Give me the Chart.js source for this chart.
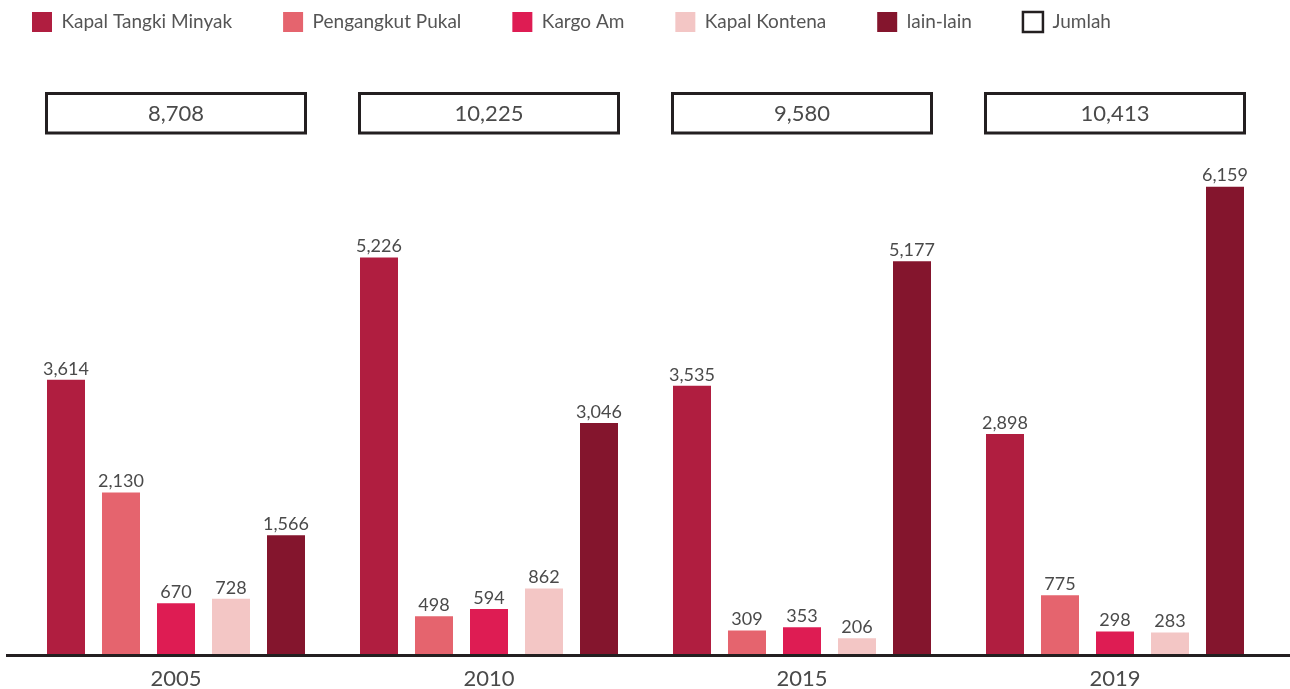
<!DOCTYPE html>
<html>
<head>
<meta charset="utf-8">
<script src="https://cdn.jsdelivr.net/npm/chart.js@4/dist/chart.umd.min.js"></script>
<style>
  html, body { margin: 0; padding: 0; background: #ffffff; }
  #wrap { position: relative; width: 1290px; height: 689px; }
</style>
</head>
<body>
<div id="wrap"><canvas id="c" width="1290" height="689"></canvas></div>
<script>
const categories = ['2005', '2010', '2015', '2019'];
const seriesNames = ['Kapal Tangki Minyak', 'Pengangkut Pukal', 'Kargo Am', 'Kapal Kontena', 'lain-lain'];
const kapalTangkiMinyak = [3614, 5226, 3535, 2898];
const pengangkutPukal = [2130, 498, 309, 775];
const kargoAm = [670, 594, 353, 298];
const kapalKontena = [728, 862, 206, 283];
const lainLain = [1566, 3046, 5177, 6159];
const jumlah = [8708, 10225, 9580, 10413];
const totalLabel = 'Jumlah';

const colors = ['#B01E40', '#E5646E', '#DE1C53', '#F3C6C5', '#84152D'];
const seriesValues = [kapalTangkiMinyak, pengangkutPukal, kargoAm, kapalKontena, lainLain];
const FONT = 'Lato, "Open Sans", sans-serif';
const TEXT = '#4a4a4a';

const fmt = v => v.toLocaleString('en-US');

const layoutTweaks = {
  id: 'layoutTweaks',
  afterInit(chart) {
    const lg = chart.legend;
    if (lg && !lg._wrapped) {
      const orig = lg.fit;
      lg.fit = function () { orig.call(this); this.height = 47; };
      lg._wrapped = true;
    }
  },
  afterLayout(chart) {
    const lg = chart.legend;
    const p = lg.options.labels.padding;
    lg.left = 32 - p;
    lg.top = 12 - p;
  }
};

const decorations = {
  id: 'decorations',
  afterDatasetsDraw(chart) {
    const ctx = chart.ctx;
    const area = chart.chartArea;
    ctx.save();
    ctx.font = '18px ' + FONT;
    ctx.fillStyle = TEXT;
    ctx.textAlign = 'center';
    ctx.textBaseline = 'bottom';
    chart.data.datasets.forEach((ds, di) => {
      const meta = chart.getDatasetMeta(di);
      meta.data.forEach((bar, i) => {
        ctx.fillText(fmt(ds.data[i]), bar.x, bar.y - 2);
      });
    });
    ctx.restore();

    ctx.save();
    ctx.strokeStyle = '#231f20';
    ctx.lineWidth = 3;
    ctx.beginPath();
    ctx.moveTo(6, area.bottom + 1.5);
    ctx.lineTo(chart.width, area.bottom + 1.5);
    ctx.stroke();
    ctx.restore();

    const first = chart.getDatasetMeta(0);
    const last = chart.getDatasetMeta(chart.data.datasets.length - 1);
    ctx.save();
    jumlah.forEach((t, i) => {
      const b0 = first.data[i], b1 = last.data[i];
      const x0 = b0.x - b0.width / 2 - 0.5;
      const x1 = b1.x + b1.width / 2 + 0.5;
      const y0 = area.top + 46.5;
      const h = 39.5;
      ctx.strokeStyle = '#231f20';
      ctx.lineWidth = 3;
      ctx.strokeRect(x0, y0, x1 - x0, h);
      ctx.font = '22px ' + FONT;
      ctx.fillStyle = TEXT;
      ctx.textAlign = 'center';
      ctx.textBaseline = 'middle';
      ctx.fillText(fmt(t), (x0 + x1) / 2, y0 + h / 2 + 1);
    });
    ctx.restore();
  }
};

new Chart(document.getElementById('c'), {
  type: 'bar',
  data: {
    labels: categories,
    datasets: seriesNames.map((name, i) => ({
      label: name,
      data: seriesValues[i],
      backgroundColor: colors[i],
      borderWidth: 0,
      categoryPercentage: 0.8786,
      barPercentage: 0.6909
    }))
  },
  options: {
    responsive: false,
    animation: false,
    layout: { padding: { left: 19.5, right: 18.5, top: 0, bottom: -15 } },
    plugins: {
      tooltip: { enabled: false },
      legend: {
        display: true,
        position: 'top',
        align: 'start',
        labels: {
          boxWidth: 20,
          boxHeight: 20,
          padding: 51,
          color: '#555',
          font: { family: FONT, size: 19 },
          generateLabels(chart) {
            const items = Chart.defaults.plugins.legend.labels.generateLabels(chart);
            items.push({
              text: totalLabel,
              fillStyle: '#ffffff',
              strokeStyle: '#231f20',
              lineWidth: 2.5,
              fontColor: '#555',
              hidden: false,
              datasetIndex: -1
            });
            return items;
          }
        }
      }
    },
    scales: {
      x: {
        grid: { display: false, drawTicks: false },
        border: { display: false },
        ticks: {
          color: TEXT,
          padding: 14,
          font: { family: FONT, size: 22, lineHeight: 1 }
        }
      },
      y: {
        display: false,
        min: 0,
        max: 8000
      }
    }
  },
  plugins: [layoutTweaks, decorations]
});
</script>
</body>
</html>
